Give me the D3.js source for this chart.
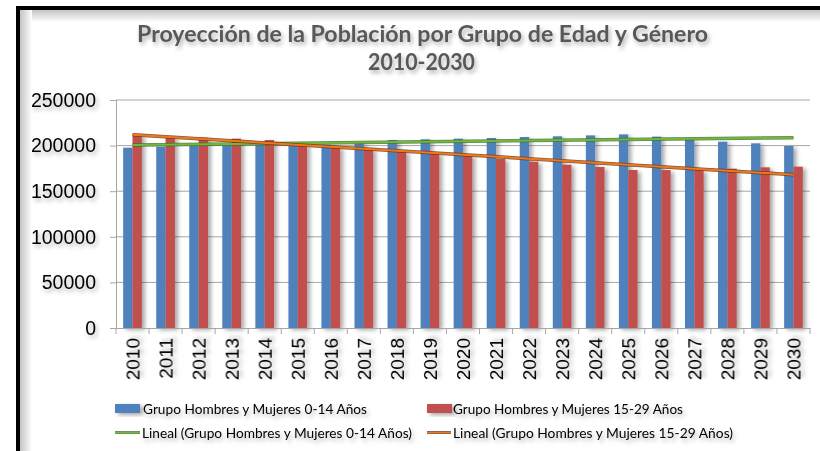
<!DOCTYPE html>
<html>
<head>
<meta charset="utf-8">
<script src="https://cdn.jsdelivr.net/npm/d3@7"></script>
<style>
  body { margin: 0; background: #fff; }
  svg { display: block; }
</style>
</head>
<body>
<div class="container"></div>
<script>
const years = ["2010","2011","2012","2013","2014","2015","2016","2017","2018","2019","2020",
  "2021","2022","2023","2024","2025","2026","2027","2028","2029","2030"];
const grupo0a14 = [197700,198800,199900,200300,200700,201500,201000,203500,206100,206900,207600,
  208300,209400,210200,211200,212300,209800,206900,204300,202500,199600];
const grupo15a29 = [212500,209800,208700,207600,206100,201700,198800,197000,194100,192200,189700,
  185300,182400,179100,176500,173200,173200,173200,174700,176200,176900];
const yTicks = [0,50000,100000,150000,200000,250000];
const seriesNames = ["Grupo Hombres y Mujeres 0-14 Años", "Grupo Hombres y Mujeres 15-29 Años"];
const trendNames = ["Lineal (Grupo Hombres y Mujeres 0-14 Años)", "Lineal (Grupo Hombres y Mujeres 15-29 Años)"];

const barColors = ["#4F81BD", "#C0504D"];
const trendColors = ["#70B83E", "#EE7A1C"];
const trendEdge = ["#3E6A1E", "#6B2E0C"];

let svg = d3.select(".container")
  .append("svg")
  .attr("width", 820)
  .attr("height", 451);

let defs = svg.append("defs");

let sh = defs.append("filter").attr("id", "shadow")
  .attr("x", "-20%").attr("y", "-20%").attr("width", "160%").attr("height", "160%");
sh.append("feDropShadow").attr("dx", 3).attr("dy", 2).attr("stdDeviation", 2.2)
  .attr("flood-color", "#000").attr("flood-opacity", 0.35);

let tsh = defs.append("filter").attr("id", "tshadow")
  .attr("x", "-20%").attr("y", "-30%").attr("width", "150%").attr("height", "180%");
tsh.append("feDropShadow").attr("dx", 2).attr("dy", 3).attr("stdDeviation", 2)
  .attr("flood-color", "#000").attr("flood-opacity", 0.3);

let gl = defs.append("linearGradient").attr("id", "gLeft").attr("x1", 0).attr("x2", 1).attr("y1", 0).attr("y2", 0);
gl.append("stop").attr("offset", 0).attr("stop-color", "#c4c4c4");
gl.append("stop").attr("offset", 1).attr("stop-color", "#fff");
let gt = defs.append("linearGradient").attr("id", "gTop").attr("x1", 0).attr("x2", 0).attr("y1", 0).attr("y2", 1);
gt.append("stop").attr("offset", 0).attr("stop-color", "#c4c4c4");
gt.append("stop").attr("offset", 1).attr("stop-color", "#fff");

// frame with inner shadow
svg.append("rect").attr("x", 20).attr("y", 10).attr("width", 800).attr("height", 12).attr("fill", "url(#gTop)");
svg.append("rect").attr("x", 20).attr("y", 10).attr("width", 12).attr("height", 441).attr("fill", "url(#gLeft)");
svg.append("rect").attr("x", 32).attr("y", 22).attr("width", 788).attr("height", 429).attr("fill", "#fff");
svg.append("path").attr("d", "M18,451 V8 H820").attr("fill", "none").attr("stroke", "#000").attr("stroke-width", 4);

// title
let title = svg.append("g").attr("filter", "url(#tshadow)")
  .style("font-family", "Lato, 'Open Sans', sans-serif").style("font-weight", "bold")
  .attr("fill", "#595959").attr("text-anchor", "middle");
title.append("text").attr("x", 422.5).attr("y", 42).style("font-size", "22px")
  .attr("textLength", 571).attr("lengthAdjust", "spacingAndGlyphs")
  .text("Proyección de la Población por Grupo de Edad y Género");
title.append("text").attr("x", 421.5).attr("y", 70).style("font-size", "22px")
  .attr("textLength", 107).attr("lengthAdjust", "spacingAndGlyphs")
  .text("2010-2030");

let x = d3.scaleBand().domain(years).range([116, 810])
  .paddingInner(0.435).paddingOuter(0.2175);
let xSub = d3.scaleBand().domain([0, 1]).range([0, x.bandwidth()]);
let y = d3.scaleLinear().domain([0, 250000]).range([328, 100]);

// gridlines
svg.append("g").selectAll("line")
  .data(yTicks.filter(d => d > 0))
  .enter().append("line")
  .attr("x1", 116).attr("x2", 810)
  .attr("y1", d => y(d)).attr("y2", d => y(d))
  .attr("stroke", "#a6a6a6").attr("stroke-width", 1);

// y axis
let yAxis = svg.append("g")
  .attr("transform", "translate(116,0)")
  .call(d3.axisLeft(y).tickValues(yTicks).tickFormat(d3.format("d")).tickSize(6).tickPadding(14));
yAxis.select(".domain").attr("stroke", "#a6a6a6");
yAxis.selectAll(".tick line").attr("stroke", "#a6a6a6");
yAxis.selectAll("text")
  .attr("filter", "url(#tshadow)")
  .style("font-family", "'Liberation Sans', Arial, sans-serif")
  .style("font-size", "19.5px").attr("fill", "#000");

// bars
let series = [grupo0a14, grupo15a29];
series.forEach((vals, s) => {
  svg.append("g").attr("filter", "url(#shadow)")
    .selectAll("rect")
    .data(years.map((yr, i) => ({ yr: yr, v: vals[i] })))
    .enter().append("rect")
    .attr("x", d => x(d.yr) + xSub(s))
    .attr("y", d => y(d.v))
    .attr("width", xSub.bandwidth())
    .attr("height", d => y(0) - y(d.v))
    .attr("fill", barColors[s]);
});

// x axis
let step = x.step();
let xAxis = svg.append("g")
  .attr("transform", "translate(0,328)")
  .call(d3.axisBottom(x).tickSize(0).tickSizeOuter(0).tickPadding(0));
xAxis.select(".domain").attr("stroke", "#a6a6a6");
xAxis.selectAll(".tick text")
  .attr("filter", "url(#tshadow)")
  .attr("transform", "translate(0,10) rotate(-90)")
  .attr("text-anchor", "end")
  .attr("dy", "0.35em")
  .attr("x", 0).attr("y", 0)
  .style("font-family", "'Liberation Sans', Arial, sans-serif")
  .style("font-size", "19px").attr("fill", "#000");
svg.append("g").selectAll("line")
  .data(years.concat(["end"]))
  .enter().append("line")
  .attr("x1", (d, i) => 116 + i * step).attr("x2", (d, i) => 116 + i * step)
  .attr("y1", 328).attr("y2", 334)
  .attr("stroke", "#a6a6a6");

// linear trendlines (least squares over the series)
function trend(vals) {
  let n = vals.length;
  let mx = d3.mean(vals, (v, i) => i), my = d3.mean(vals);
  let b = d3.sum(vals, (v, i) => (i - mx) * (v - my)) / d3.sum(vals, (v, i) => (i - mx) * (i - mx));
  let a = my - b * mx;
  return [0, n - 1].map(i => ({ yr: years[i], v: a + b * i }));
}
let line = d3.line()
  .x(d => x(d.yr) + x.bandwidth() / 2)
  .y(d => y(d.v));
series.forEach((vals, s) => {
  let t = trend(vals);
  svg.append("path").datum(t).attr("d", line)
    .attr("fill", "none").attr("stroke", trendEdge[s]).attr("stroke-width", 3.5).attr("opacity", 0.8);
  svg.append("path").datum(t).attr("d", line)
    .attr("fill", "none").attr("stroke", trendColors[s]).attr("stroke-width", 2);
});

// legend
let legend = svg.append("g")
  .style("font-family", "Lato, 'Open Sans', sans-serif")
  .style("font-size", "14px");
let legX = [115, 427];
let textX = [143, 453];
let barLen = [224, 230];
let trendLen = [270, 280];
seriesNames.forEach((name, s) => {
  legend.append("rect")
    .attr("filter", "url(#shadow)")
    .attr("x", legX[s]).attr("y", 404).attr("width", 25).attr("height", 9)
    .attr("fill", barColors[s]);
  legend.append("text")
    .attr("filter", "url(#tshadow)")
    .attr("x", textX[s]).attr("y", 414)
    .attr("textLength", barLen[s]).attr("lengthAdjust", "spacingAndGlyphs")
    .attr("fill", "#000").text(name);
});
trendNames.forEach((name, s) => {
  legend.append("line")
    .attr("x1", legX[s]).attr("x2", s === 0 ? 140 : 451).attr("y1", 432.5).attr("y2", 432.5)
    .attr("stroke", trendEdge[s]).attr("stroke-width", 2.5);
  legend.append("line")
    .attr("x1", legX[s]).attr("x2", s === 0 ? 140 : 451).attr("y1", 432.5).attr("y2", 432.5)
    .attr("stroke", trendColors[s]).attr("stroke-width", 1.2);
  legend.append("text")
    .attr("filter", "url(#tshadow)")
    .attr("x", textX[s] - (s === 0 ? 1 : 0)).attr("y", 438)
    .attr("textLength", trendLen[s]).attr("lengthAdjust", "spacingAndGlyphs")
    .attr("fill", "#000").text(name);
});
</script>
</body>
</html>
